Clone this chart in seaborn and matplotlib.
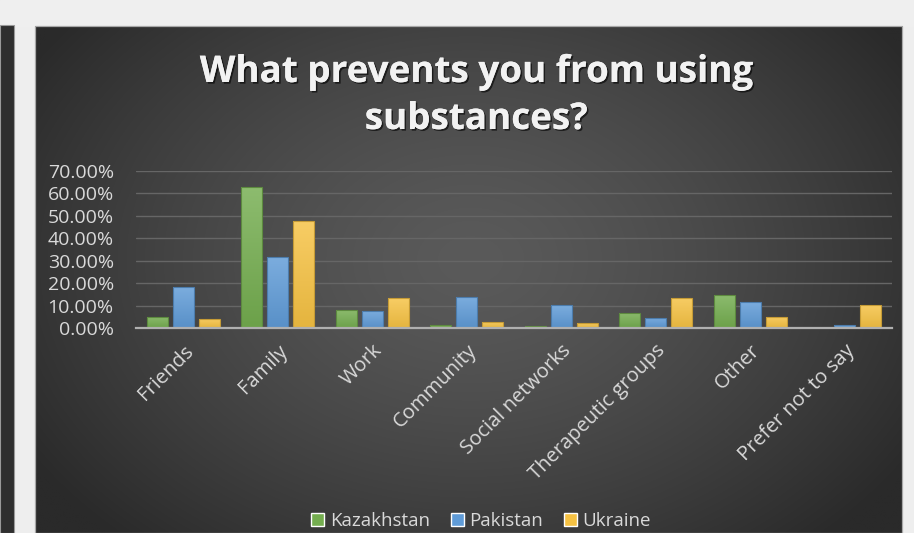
import numpy as np
import pandas as pd
import matplotlib
matplotlib.use("Agg")
import matplotlib.pyplot as plt
import matplotlib.patheffects as pe
from matplotlib.patches import Rectangle
from matplotlib.colors import to_rgb
from matplotlib.ticker import FuncFormatter, MultipleLocator
import seaborn as sns

categories = ["Friends", "Family", "Work", "Community", "Social networks",
              "Therapeutic groups", "Other", "Prefer not to say"]
kazakhstan = [4.9, 62.9, 8.0, 1.5, 1.0, 6.7, 14.8, 0.0]
pakistan = [18.5, 31.6, 7.6, 14.0, 10.2, 4.6, 11.8, 1.3]
ukraine = [4.3, 47.8, 13.3, 2.7, 2.4, 13.6, 5.2, 10.5]
series_names = ["Kazakhstan", "Pakistan", "Ukraine"]
colors = ["#74ad4f", "#5f9bd7", "#f6c243"]

rows = []
for name, vals in zip(series_names, [kazakhstan, pakistan, ukraine]):
    for c, v in zip(categories, vals):
        rows.append({"Category": c, "Country": name, "Value": v / 100.0})
df = pd.DataFrame(rows)

sns.set_theme(style="dark")
plt.rcParams["font.family"] = ["Open Sans", "DejaVu Sans"]

W, H = 914, 533
fig = plt.figure(figsize=(W / 100, H / 100), dpi=100)
fig.patch.set_facecolor("#eeeeee")

# background frame axes (pixel coords)
bg = fig.add_axes([0, 0, 1, 1])
bg.set_xlim(0, W)
bg.set_ylim(H, 0)
bg.axis("off")
bg.add_patch(Rectangle((0, 0), W, 26, color="#efefef", zorder=0))
bg.add_patch(Rectangle((0, 25), 13.5, H - 25, facecolor="#2f2f2f",
                       edgecolor="#9a9a9a", lw=0.8, zorder=1))
px0, px1, py0, py1 = 34.5, 902, 26, H
nx, ny = 400, 240
xs = np.linspace(px0, px1, nx)
ys = np.linspace(py0, py1, ny)
XX, YY = np.meshgrid(xs, ys)
cx, cy = 470, 260
r = np.sqrt(((XX - cx) / 520.0) ** 2 + ((YY - cy) / 380.0) ** 2)
r = np.clip(r, 0, 1)
inner = np.array([0x5a, 0x5a, 0x5a]) / 255.0
outer = np.array([0x2a, 0x2a, 0x2a]) / 255.0
img = inner[None, None, :] * (1 - r[..., None] ** 1.4) + outer[None, None, :] * (r[..., None] ** 1.4)
bg.imshow(img, extent=[px0, px1, py1, py0], aspect="auto", zorder=1,
          interpolation="bilinear")
bg.add_patch(Rectangle((px0, py0), px1 - px0, py1 - py0, fill=False,
                       edgecolor="#a8a8a8", lw=0.9, zorder=2))
bg.set_xlim(0, W)
bg.set_ylim(H, 0)

shadow = [pe.withSimplePatchShadow(offset=(1.2, -1.2), shadow_rgbFace="black", alpha=0.6), pe.Normal()]
bg.text(476, 82, "What prevents you from using", ha="center", va="baseline",
        fontsize=26.5, fontweight="bold", color="#f2f2f2", zorder=3,
        path_effects=shadow)
bg.text(476, 129, "substances?", ha="center", va="baseline",
        fontsize=26.5, fontweight="bold", color="#f2f2f2", zorder=3,
        path_effects=shadow)

# chart axes
ax = fig.add_axes([136 / W, 1 - 328.3 / H, (892 - 136) / W, (328.3 - 170.7) / H])
ax.set_facecolor("none")
sns.barplot(data=df, x="Category", y="Value", hue="Country", order=categories,
            hue_order=series_names, palette=colors, width=0.825, gap=0.2,
            saturation=1, ax=ax, legend=True, zorder=3)

ax.set_ylim(0, 0.70)
ax.set_xlim(-0.5, len(categories) - 0.5)

# vertical gradient fill inside each bar (lighter at top)
grad = np.linspace(0, 1, 64)[:, None]
for p in list(ax.patches):
    h = p.get_height()
    if h <= 0:
        continue
    base = np.array(to_rgb(p.get_facecolor()))
    top = np.clip(base + (1 - base) * 0.18, 0, 1)
    bot = base * 0.93
    gimg = top[None, None, :] * (1 - grad[..., None]) + bot[None, None, :] * grad[..., None]
    gimg = np.repeat(gimg, 2, axis=1)
    x0 = p.get_x()
    w = p.get_width()
    im = ax.imshow(gimg, extent=[x0, x0 + w, 0, h], aspect="auto",
                   zorder=3.5, interpolation="bilinear", origin="upper")
    im.set_clip_path(p)
    p.set_edgecolor(tuple(base * 0.8) + (1,))
    p.set_linewidth(0.8)
    p.set_zorder(3.6)
    p.set_facecolor("none")

ax.set_ylim(0, 0.70)
ax.set_xlim(-0.5, len(categories) - 0.5)
ax.set_aspect("auto")
ax.yaxis.set_major_locator(MultipleLocator(0.10))
ax.yaxis.set_major_formatter(FuncFormatter(lambda v, _: f"{v*100:.2f}%"))
ax.grid(axis="y", color="#666666", lw=1.0, zorder=0)
ax.grid(axis="x", visible=False)
ax.set_axisbelow(True)
for s in ["top", "right", "left"]:
    ax.spines[s].set_visible(False)
ax.spines["bottom"].set_color("#b0b0b0")
ax.spines["bottom"].set_linewidth(1.6)
ax.spines["bottom"].set_zorder(5)
ax.set_xlabel("")
ax.set_ylabel("")
ax.tick_params(axis="y", length=0, pad=16, labelsize=14, labelcolor="#d9d9d9")
ax.tick_params(axis="x", length=0, pad=9, labelsize=14.5, labelcolor="#d9d9d9")
plt.setp(ax.get_xticklabels(), rotation=45, ha="right", va="top",
         rotation_mode="anchor")
for lbl in ax.get_yticklabels():
    lbl.set_ha("right")

handles, labels = ax.get_legend_handles_labels()
ax.get_legend().remove()
fig.legend(handles, labels, loc="center", bbox_to_anchor=(481 / W, 1 - 521 / H),
           ncol=3, frameon=False, fontsize=13.5, labelcolor="#d9d9d9",
           handlelength=0.7, handleheight=0.7, handletextpad=0.3,
           columnspacing=1.1)

fig.savefig("out.png", dpi=100, facecolor=fig.get_facecolor())
